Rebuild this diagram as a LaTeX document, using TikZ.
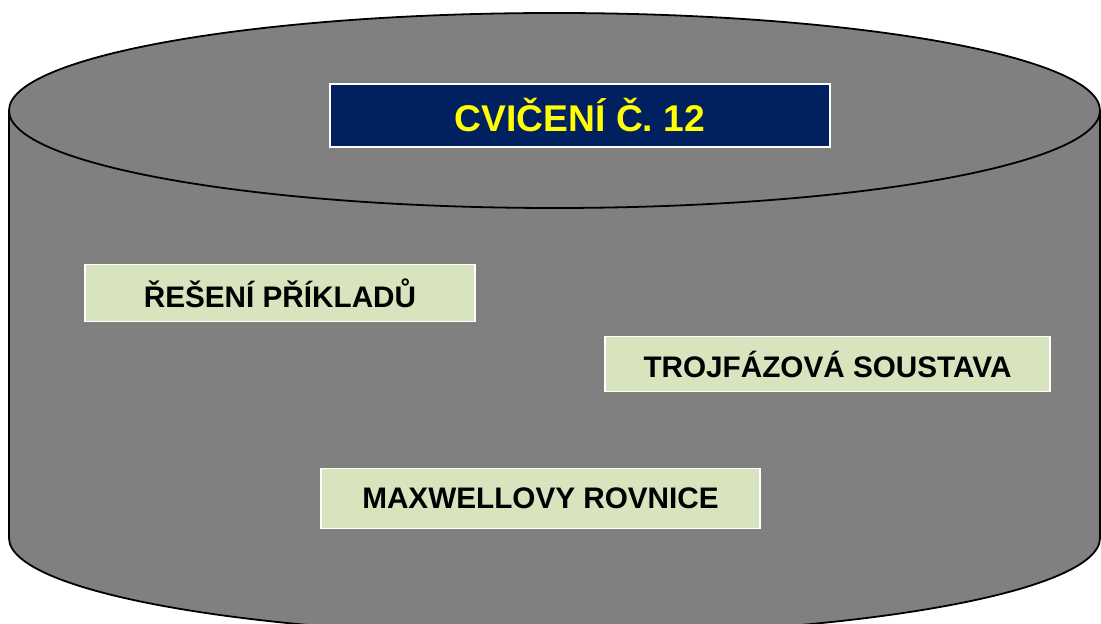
\documentclass[tikz,border=0pt]{standalone}
\usepackage{fontspec}
\setmainfont{Liberation Sans}
\definecolor{cylgray}{HTML}{808080}
\definecolor{navy}{HTML}{002060}
\definecolor{boxgreen}{HTML}{D7E4BD}
\definecolor{titleyellow}{HTML}{FFFF00}
\begin{document}
\begin{tikzpicture}[x=1pt,y=1pt,
  cylline/.style={draw=black,line width=1.8pt,fill=cylgray},
  titlebox/.style={draw=white,line width=1.5pt,fill=navy,text=titleyellow,inner sep=0pt,
    font=\fontsize{37.2}{41}\selectfont\bfseries},
  topicbox/.style={draw=white,line width=1.5pt,fill=boxgreen,text=black,inner sep=0pt,
    font=\fontsize{29.7}{33}\selectfont\bfseries}]
\useasboundingbox (0,0) rectangle (1101,624);
\clip (0,0) rectangle (1101,624);
% cylinder body
\fill[cylgray] (9,513.5) -- (9,86) arc[start angle=180,end angle=360,x radius=545.5,y radius=97.5] -- (1100,513.5) -- cycle;
\draw[cylline,fill=none] (9,513.5) -- (9,86) arc[start angle=180,end angle=360,x radius=545.5,y radius=97.5] -- (1100,513.5);
% top ellipse
\draw[cylline] (554.5,513.5) ellipse[x radius=545.5,y radius=97.5];
% boxes
\node[titlebox,minimum width=500pt,minimum height=63pt] (title) at (580,508.5) {CVIČENÍ Č. 12};
\node[topicbox,minimum width=390pt,minimum height=57pt] (resen) at (280,331) {ŘEŠENÍ PŘÍKLADŮ};
\node[topicbox,minimum width=445pt,minimum height=55pt] (troj) at (827.5,259.8) {TROJFÁZOVÁ SOUSTAVA};
\node[topicbox,minimum width=439pt,minimum height=60pt] (maxw) at (540.5,125.7) {MAXWELLOVY ROVNICE};
\end{tikzpicture}
\end{document}
